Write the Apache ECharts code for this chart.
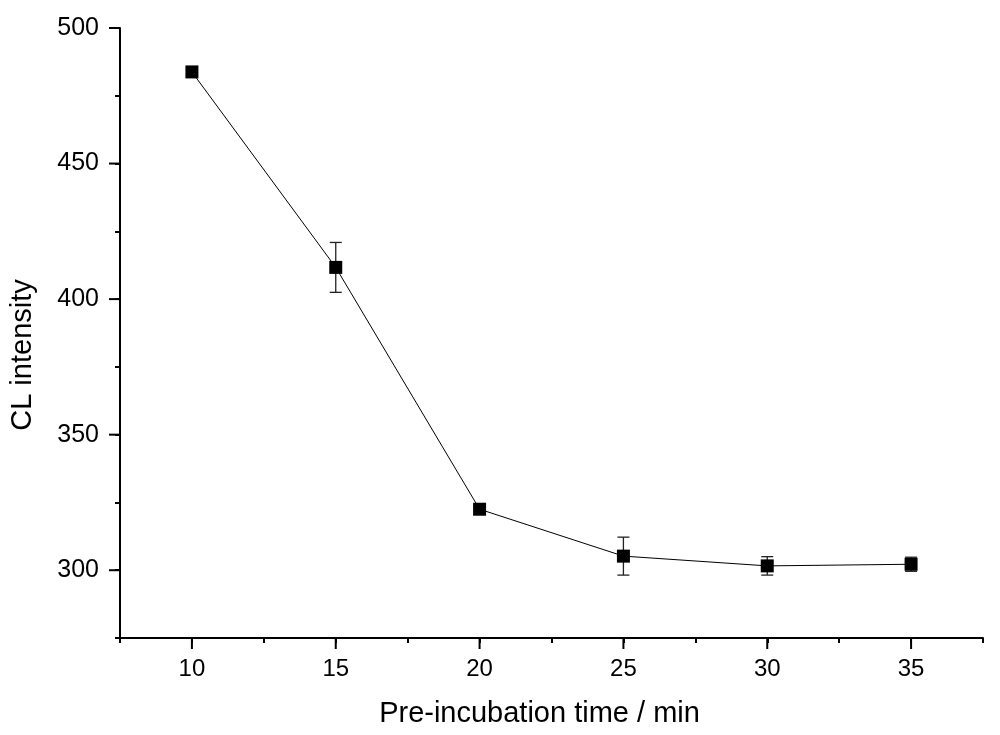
<!DOCTYPE html>
<html>
<head>
<meta charset="utf-8">
<script src="https://cdn.jsdelivr.net/npm/echarts@6/dist/echarts.min.js"></script>
<style>html,body{margin:0;padding:0;background:#fff}#c{width:1000px;height:735px}</style>
</head>
<body>
<div id="c"></div>
<script>
var times = [10, 15, 20, 25, 30, 35];
var intensity = [483.8, 411.7, 322.5, 305.2, 301.6, 302.2];
var errors = [0.8, 9.2, 0.8, 7.0, 3.4, 2.6];
var xTicks = [10, 15, 20, 25, 30, 35];
var yTicks = [300, 350, 400, 450, 500];

var lineData = times.map(function (t, i) { return [t, intensity[i]]; });
var errData = times.map(function (t, i) { return [t, intensity[i] - errors[i], intensity[i] + errors[i]]; });

var chart = echarts.init(document.getElementById('c'));
var font = "'Liberation Sans', Arial, sans-serif";
chart.setOption({
  animation: false,
  backgroundColor: '#fff',
  grid: { left: 118, right: 17, top: 28, bottom: 97, containLabel: false },
  xAxis: {
    type: 'value', min: 7.5, max: 37.5, interval: 2.5,
    name: 'Pre-incubation time / min', nameLocation: 'middle', nameGap: 61,
    nameTextStyle: { fontSize: 29, color: '#000', fontFamily: font, padding: [0, 24, 0, 0] },
    axisLine: { show: true, onZero: false, lineStyle: { color: '#000', width: 2 } },
    axisTick: { show: true, inside: false, length: 5, lineStyle: { color: '#000', width: 2 } },
    axisLabel: {
      fontSize: 24, color: '#000', fontFamily: font, margin: 19,
      formatter: function (v) { return xTicks.indexOf(v) >= 0 ? String(v) : ''; }
    },
    splitLine: { show: false }
  },
  yAxis: {
    type: 'value', min: 275, max: 500, interval: 25,
    name: 'CL intensity', nameLocation: 'middle', nameGap: 83,
    nameTextStyle: { fontSize: 29, color: '#000', fontFamily: font, padding: [0, 44, 0, 0] },
    axisLine: { show: true, onZero: false, lineStyle: { color: '#000', width: 2 } },
    axisTick: { show: true, inside: false, length: 5, lineStyle: { color: '#000', width: 2 } },
    axisLabel: {
      fontSize: 25, color: '#000', fontFamily: font, margin: 21,
      formatter: function (v) { return yTicks.indexOf(v) >= 0 ? String(v) : ''; }
    },
    splitLine: { show: false }
  },
  series: [
    {
      type: 'custom',
      data: errData,
      z: 2,
      renderItem: function (params, api) {
        var x = api.value(0);
        var lo = api.coord([x, api.value(1)]);
        var hi = api.coord([x, api.value(2)]);
        var w = 6;
        var st = { stroke: '#222', lineWidth: 1.3 };
        return {
          type: 'group',
          children: [
            { type: 'line', shape: { x1: lo[0], y1: lo[1], x2: hi[0], y2: hi[1] }, style: st },
            { type: 'line', shape: { x1: lo[0] - w, y1: lo[1], x2: lo[0] + w, y2: lo[1] }, style: st },
            { type: 'line', shape: { x1: hi[0] - w, y1: hi[1], x2: hi[0] + w, y2: hi[1] }, style: st }
          ]
        };
      }
    },
    {
      type: 'line',
      data: lineData,
      z: 3,
      symbol: 'rect', symbolSize: 13,
      itemStyle: { color: '#000' },
      lineStyle: { color: '#000', width: 1 }
    }
  ]
});

function addMajorTicks() {
  var g = [];
  xTicks.forEach(function (v) {
    var p = chart.convertToPixel({ gridIndex: 0 }, [v, 275]);
    g.push({ type: 'line', shape: { x1: p[0], y1: p[1], x2: p[0], y2: p[1] + 11 }, style: { stroke: '#000', lineWidth: 2 } });
  });
  yTicks.forEach(function (v) {
    var p = chart.convertToPixel({ gridIndex: 0 }, [7.5, v]);
    g.push({ type: 'line', shape: { x1: p[0], y1: p[1], x2: p[0] - 11, y2: p[1] }, style: { stroke: '#000', lineWidth: 2 } });
  });
  chart.setOption({ graphic: g });
}
addMajorTicks();
</script>
</body>
</html>
